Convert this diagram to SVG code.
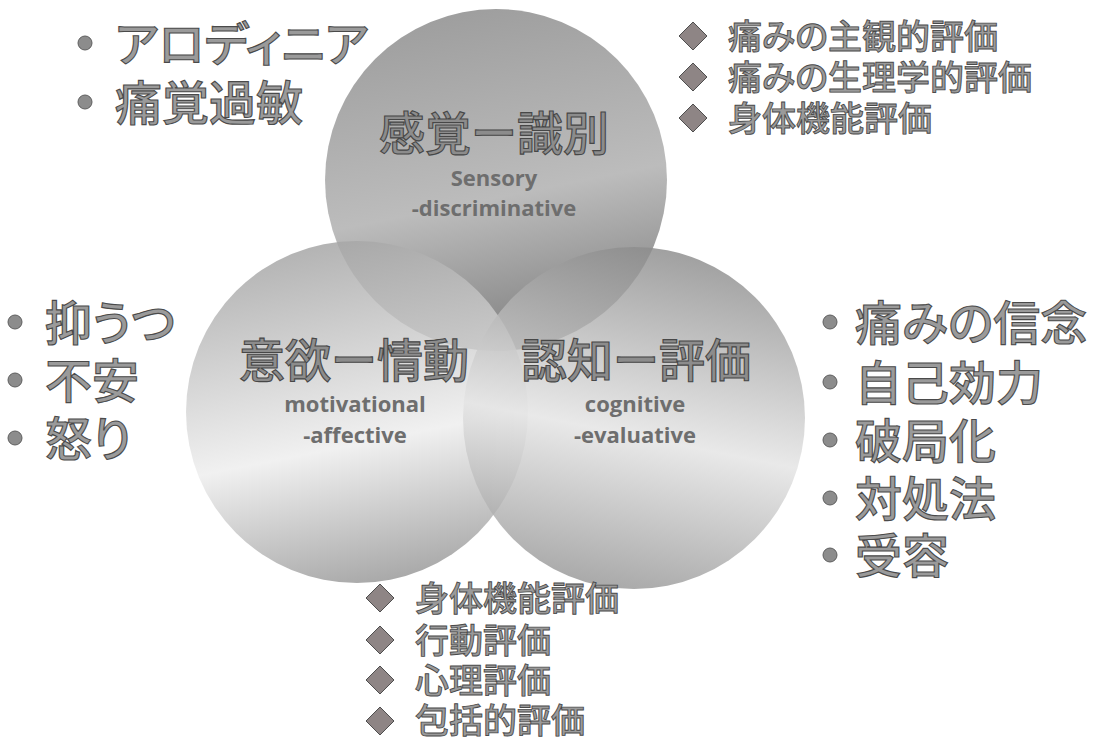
<svg xmlns="http://www.w3.org/2000/svg" width="1105" height="741" viewBox="0 0 1105 741">
<style>
.ttl{font-family:"Noto Sans CJK JP","Noto Sans",sans-serif;font-weight:500;font-size:46px;fill:#8c8c8c;stroke:#474747;stroke-width:1.1;text-anchor:middle}
.sub{font-family:"Open Sans","Noto Sans",sans-serif;font-weight:700;font-size:22px;fill:#6e6e6e;text-anchor:middle}
.big{font-family:"Noto Sans CJK JP","Noto Sans",sans-serif;font-weight:500;font-size:47px;fill:#9a9a9a;stroke:#4a4a4a;stroke-width:1.1;font-feature-settings:"palt"}
.sm{font-family:"Noto Sans CJK JP","Noto Sans",sans-serif;font-weight:500;font-size:34px;fill:#9a9a9a;stroke:#4a4a4a;stroke-width:0.9;font-feature-settings:"palt"}
.dot{fill:#8c8c8c;stroke:#5e5e5e;stroke-width:1}
.dia{fill:#8e8585;stroke:#4e4e4e;stroke-width:1}
</style>
<defs>
<linearGradient id="gTop" x1="0.4" y1="0" x2="0.6" y2="1">
<stop offset="0" stop-color="#9e9e9e"/>
<stop offset="0.55" stop-color="#bcbcbc"/>
<stop offset="1" stop-color="#7e7e7e"/>
</linearGradient>
<linearGradient id="gLeft" x1="0.35" y1="0" x2="0.55" y2="1">
<stop offset="0" stop-color="#a4a4a4"/>
<stop offset="0.6" stop-color="#eeeeee"/>
<stop offset="1" stop-color="#9a9a9a"/>
</linearGradient>
<linearGradient id="gRight" x1="0.6" y1="0" x2="0.4" y2="1">
<stop offset="0" stop-color="#8a8a8a"/>
<stop offset="0.55" stop-color="#e4e4e4"/>
<stop offset="1" stop-color="#959595"/>
</linearGradient>
</defs>
<rect width="1105" height="741" fill="#ffffff"/>

<g id="circle-sensory">
<circle cx="496" cy="180" r="171" fill="url(#gTop)"/>
</g>
<g id="circle-motivational">
<circle cx="357" cy="412" r="171" fill="url(#gLeft)" fill-opacity="0.85"/>
</g>
<g id="circle-cognitive">
<circle cx="634" cy="418" r="171" fill="url(#gRight)" fill-opacity="0.82"/>
</g>

<g id="label-sensory">
<text class="ttl" x="494" y="150">感覚ー識別</text>
<text class="sub" x="494" y="186">Sensory</text>
<text class="sub" x="494" y="216">-discriminative</text>
</g>
<g id="label-motivational">
<text class="ttl" x="354" y="377">意欲ー情動</text>
<text class="sub" x="355" y="412">motivational</text>
<text class="sub" x="355" y="443">-affective</text>
</g>
<g id="label-cognitive">
<text class="ttl" x="636" y="377">認知ー評価</text>
<text class="sub" x="635" y="412">cognitive</text>
<text class="sub" x="635" y="443">-evaluative</text>
</g>

<g id="list-topleft">
<circle class="dot" cx="85" cy="43" r="7"/>
<circle class="dot" cx="85" cy="102" r="7"/>
<text class="big" x="115" y="61">アロディニア</text>
<text class="big" x="115" y="120">痛覚過敏</text>
</g>

<g id="list-topright">
<polygon class="dia" points="693,22 707,36 693,50 679,36"/>
<polygon class="dia" points="693,63 707,77 693,91 679,77"/>
<polygon class="dia" points="693,104 707,118 693,132 679,118"/>
<text class="sm" x="728" y="49">痛みの主観的評価</text>
<text class="sm" x="728" y="90">痛みの生理学的評価</text>
<text class="sm" x="728" y="131">身体機能評価</text>
</g>

<g id="list-left">
<circle class="dot" cx="15" cy="322" r="7"/>
<circle class="dot" cx="15" cy="380" r="7"/>
<circle class="dot" cx="15" cy="438" r="7"/>
<text class="big" x="45" y="340">抑うつ</text>
<text class="big" x="45" y="398">不安</text>
<text class="big" x="45" y="456">怒り</text>
</g>

<g id="list-right">
<circle class="dot" cx="830" cy="322" r="7"/>
<circle class="dot" cx="830" cy="382" r="7"/>
<circle class="dot" cx="830" cy="440" r="7"/>
<circle class="dot" cx="830" cy="498" r="7"/>
<circle class="dot" cx="830" cy="555" r="7"/>
<text class="big" x="855" y="340">痛みの信念</text>
<text class="big" x="855" y="400">自己効力</text>
<text class="big" x="855" y="458">破局化</text>
<text class="big" x="855" y="516">対処法</text>
<text class="big" x="855" y="573">受容</text>
</g>

<g id="list-bottom">
<polygon class="dia" points="380,584 394,598 380,612 366,598"/>
<polygon class="dia" points="380,626 394,640 380,654 366,640"/>
<polygon class="dia" points="380,666 394,680 380,694 366,680"/>
<polygon class="dia" points="380,707 394,721 380,735 366,721"/>
<text class="sm" x="415" y="611">身体機能評価</text>
<text class="sm" x="415" y="653">行動評価</text>
<text class="sm" x="415" y="693">心理評価</text>
<text class="sm" x="415" y="733">包括的評価</text>
</g>
<g id="connectors"></g>
</svg>
